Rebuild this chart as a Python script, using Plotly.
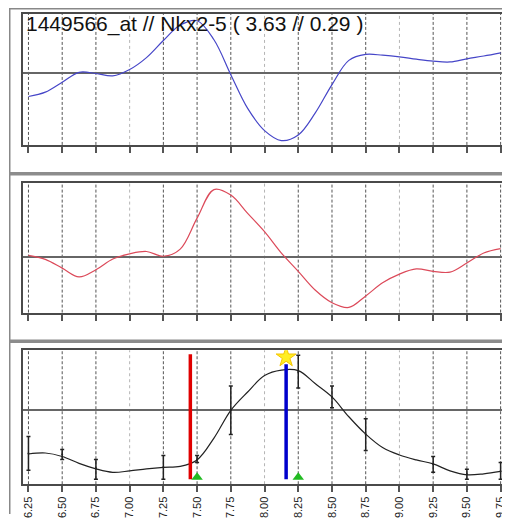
import plotly.graph_objects as go

# ---------------- data ----------------
title_text = "1449566_at // Nkx2-5 ( 3.63 // 0.29 )"

tick_vals = [6.25, 6.50, 6.75, 7.00, 7.25, 7.50, 7.75, 8.00, 8.25, 8.50, 8.75, 9.00, 9.25, 9.50, 9.75]

curve_x = [6.25, 6.375, 6.5, 6.625, 6.75, 6.875, 7.0, 7.125, 7.25, 7.375, 7.5, 7.625, 7.75, 7.875,
           8.0, 8.125, 8.25, 8.375, 8.5, 8.625, 8.75, 8.875, 9.0, 9.125, 9.25, 9.375, 9.5, 9.625, 9.75]

blue_y = [-0.58, -0.47, -0.22, 0.03, 0.0, -0.06, 0.10, 0.40, 0.83, 1.22, 1.33, 0.85, -0.03, -0.88,
          -1.44, -1.69, -1.55, -1.00, -0.28, 0.33, 0.48, 0.46, 0.42, 0.36, 0.31, 0.29, 0.37, 0.44, 0.52]

red_y = [0.04, -0.06, -0.28, -0.50, -0.32, -0.05, 0.08, 0.14, 0.02, 0.20, 0.98, 1.70, 1.56, 1.10,
         0.64, 0.10, -0.36, -0.83, -1.15, -1.27, -0.98, -0.65, -0.43, -0.30, -0.36, -0.38, -0.15, 0.10, 0.21]

black_y = [-0.89, -0.87, -0.94, -1.08, -1.19, -1.26, -1.23, -1.19, -1.16, -1.14, -1.01, -0.57, -0.01, 0.36,
           0.69, 0.80, 0.79, 0.53, 0.26, -0.14, -0.49, -0.76, -0.91, -1.01, -1.09, -1.23, -1.31, -1.29, -1.24]

pt_x = [6.25, 6.50, 6.75, 7.25, 7.50, 7.75, 8.25, 8.50, 8.75, 9.25, 9.50, 9.75]
pt_mean = [-0.88, -0.90, -1.18, -1.16, -1.00, 0.00, 0.76, 0.26, -0.50, -1.10, -1.30, -1.24]
pt_high = [-0.54, -0.80, -1.00, -0.92, -0.92, 0.48, 1.10, 0.48, -0.18, -0.94, -1.20, -1.06]
pt_low = [-1.22, -1.00, -1.40, -1.40, -1.06, -0.50, 0.44, 0.04, -0.82, -1.26, -1.40, -1.40]

red_marker_x = 7.45
red_marker_y = [1.12, -1.40]
blue_marker_x = 8.16
blue_marker_y = [0.92, -1.40]
star_x = [8.16]
star_y = [1.06]
tri_x = [7.50, 8.25]
tri_y = [-1.36, -1.36]

# ---------------- figure ----------------
# page body has an 8px default margin, so the figure is drawn 8px in from the window corner
OFF = 8
W, H = 502, 510
fig = go.Figure()

def py(p):
    return 1 - (p - OFF) / H

def px(p):
    return (p - OFF) / W

domains = [[py(146), py(14)], [py(315), py(184)], [py(488), py(353)]]
yranges = [[-1.8, 1.5], [-1.4, 1.875], [-1.5, 1.2]]
xrange_ = [6.213, 9.79]
xdom = [px(22.5), px(506)]

fig.add_trace(go.Scatter(x=curve_x, y=blue_y, mode="lines", line=dict(color="#4646c8", width=1.2, shape="spline"),
                         xaxis="x", yaxis="y", hoverinfo="skip"))
fig.add_trace(go.Scatter(x=curve_x, y=red_y, mode="lines", line=dict(color="#dc4a5a", width=1.2, shape="spline"),
                         xaxis="x2", yaxis="y2", hoverinfo="skip"))
fig.add_trace(go.Scatter(x=curve_x, y=black_y, mode="lines", line=dict(color="#222222", width=1.2, shape="spline"),
                         xaxis="x3", yaxis="y3", hoverinfo="skip"))
fig.add_trace(go.Scatter(
    x=pt_x, y=pt_mean, mode="markers", marker=dict(size=2, color="#222222"),
    error_y=dict(type="data", symmetric=False,
                 array=[h - m for h, m in zip(pt_high, pt_mean)],
                 arrayminus=[m - l for m, l in zip(pt_mean, pt_low)],
                 color="#222222", thickness=1.5, width=2),
    xaxis="x3", yaxis="y3", hoverinfo="skip"))
fig.add_trace(go.Scatter(x=[red_marker_x, red_marker_x], y=red_marker_y, mode="lines",
                         line=dict(color="#e00000", width=3.5), xaxis="x3", yaxis="y3", hoverinfo="skip"))
fig.add_trace(go.Scatter(x=[blue_marker_x, blue_marker_x], y=blue_marker_y, mode="lines",
                         line=dict(color="#0000cc", width=3.5), xaxis="x3", yaxis="y3", hoverinfo="skip"))
fig.add_trace(go.Scatter(x=star_x, y=star_y, mode="markers",
                         marker=dict(symbol="star", size=15, color="#ffee22", line=dict(color="#f5c400", width=1)),
                         xaxis="x3", yaxis="y3", hoverinfo="skip"))
fig.add_trace(go.Scatter(x=tri_x, y=tri_y, mode="markers",
                         marker=dict(symbol="triangle-up", size=10, color="#22bb22"),
                         xaxis="x3", yaxis="y3", hoverinfo="skip"))

shapes = []
for i in range(3):
    yref_dom = ("y" if i == 0 else f"y{i+1}") + " domain"
    xref = "x" if i == 0 else f"x{i+1}"
    for t in tick_vals:
        integer = abs(t - round(t)) < 1e-9
        shapes.append(dict(type="line", xref=xref, yref=yref_dom, x0=t, x1=t, y0=0, y1=1, layer="below",
                           line=dict(color="#b4b4b4" if integer else "#555555", width=1,
                                     dash="dot" if integer else "3px,2px")))

# outer frame and separators
shapes.append(dict(type="line", xref="paper", yref="paper", x0=0.75 / W, x1=0.75 / W, y0=0, y1=1,
                   line=dict(color="#888888", width=1.5)))
shapes.append(dict(type="line", xref="paper", yref="paper", x0=0, x1=1, y0=1 - 0.75 / H, y1=1 - 0.75 / H,
                   line=dict(color="#888888", width=1.5)))
for sep in [175, 344]:
    shapes.append(dict(type="line", xref="paper", yref="paper", x0=0, x1=1, y0=py(sep), y1=py(sep),
                       line=dict(color="#8c8c8c", width=3.5)))

layout = dict(
    width=W, height=H, margin=dict(l=0, r=0, t=0, b=0),
    paper_bgcolor="white", plot_bgcolor="white", showlegend=False,
    shapes=shapes,
    font=dict(family="Liberation Sans, Arial, sans-serif", color="#222222"),
    annotations=[dict(text=title_text, xref="paper", yref="paper", x=px(23), y=py(10),
                      xanchor="left", yanchor="top", showarrow=False,
                      font=dict(size=21, color="#111111", family="Liberation Sans, Arial, sans-serif"))],
)
for i in range(3):
    xa = "xaxis" if i == 0 else f"xaxis{i+1}"
    ya = "yaxis" if i == 0 else f"yaxis{i+1}"
    layout[xa] = dict(domain=xdom, range=xrange_, anchor="y" if i == 0 else f"y{i+1}",
                      tickvals=tick_vals, ticktext=[f"{t:.2f}" for t in tick_vals],
                      showticklabels=(i == 2), tickangle=-90, tickfont=dict(size=11, color="#222222"),
                      ticks="outside", ticklen=6, tickwidth=1.5, tickcolor="#555555",
                      showgrid=False, zeroline=False, showline=True, mirror=True,
                      linecolor="#4a4a4a", linewidth=2)
    layout[ya] = dict(domain=domains[i], range=yranges[i], anchor="x" if i == 0 else f"x{i+1}",
                      showticklabels=False, ticks="", showgrid=False,
                      zeroline=True, zerolinecolor="#666666", zerolinewidth=1.5,
                      showline=True, mirror=True, linecolor="#4a4a4a", linewidth=2)

fig.update_layout(**layout)
fig.write_html("out.html")
